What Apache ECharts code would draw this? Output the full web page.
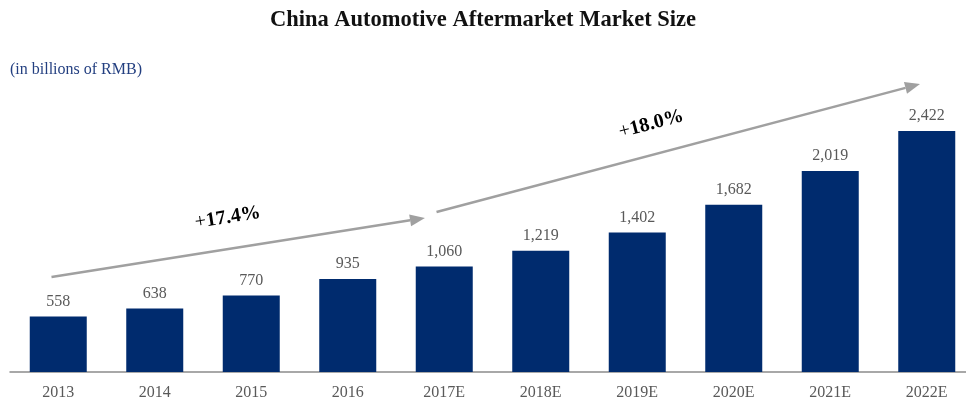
<!DOCTYPE html>
<html><head><meta charset="utf-8">
<script src="https://cdn.jsdelivr.net/npm/echarts@6/dist/echarts.min.js"></script>
<style>html,body{margin:0;padding:0;background:#fff}#c{width:966px;height:403px}</style>
</head><body><div id="c"></div>
<script>
var categories = ['2013','2014','2015','2016','2017E','2018E','2019E','2020E','2021E','2022E'];
var marketSize = [558, 638, 770, 935, 1060, 1219, 1402, 1682, 2019, 2422];
var growthLabels = ['17.4%', '18.0%'];
// arrow endpoints in data space: [category index (fractional), value]
var arrow1 = [[-0.07, 955], [3.8, 1548]];
var arrow2 = [[3.92, 1608], [8.93, 2894]];

var chart = echarts.init(document.getElementById('c'));
var serif = '"Liberation Serif","DejaVu Serif",serif';
chart.setOption({
  animation: false,
  title: [{
    text: 'China Automotive Aftermarket Market Size',
    left: 'center', top: 4,
    textStyle: {fontFamily: serif, fontSize: 22.5, fontWeight: 'bold', color: '#111'}
  }, {
    text: '(in billions of RMB)',
    left: 5, top: 57,
    textStyle: {fontFamily: serif, fontSize: 16, fontWeight: 'normal', color: '#233f80'}
  }],
  grid: {left: 10, width: 965, top: 73.5, height: 298.5, outerBoundsMode: 'none', containLabel: false},
  xAxis: {
    type: 'category', data: categories,
    axisLine: {lineStyle: {color: '#8c8c8c', width: 1.5}},
    axisTick: {show: false},
    axisLabel: {fontFamily: serif, fontSize: 16, color: '#595959', margin: 13}
  },
  yAxis: {type: 'value', min: 0, max: 3000, show: false, splitLine: {show: false}},
  series: [{
    type: 'bar', data: marketSize, barWidth: 57,
    itemStyle: {color: '#002b6e'},
    label: {
      show: true, position: 'top', distance: 7,
      fontFamily: serif, fontSize: 16, color: '#595959',
      formatter: function (p) { return p.value.toLocaleString('en-US'); }
    }
  }]
});

function px(pt) {
  var x0 = chart.convertToPixel({xAxisIndex: 0}, 0);
  var x1 = chart.convertToPixel({xAxisIndex: 0}, 1);
  var x = x0 + (x1 - x0) * pt[0];
  var y = chart.convertToPixel({yAxisIndex: 0}, pt[1]);
  return [x, y];
}
function arrowGraphic(a) {
  var p0 = px(a[0]), p1 = px(a[1]);
  var ang = Math.atan2(p1[1] - p0[1], p1[0] - p0[0]);
  var L = 15, W = 6;
  var bx = p1[0] - L * Math.cos(ang), by = p1[1] - L * Math.sin(ang);
  var nx = -Math.sin(ang) * W, ny = Math.cos(ang) * W;
  return [{
    type: 'line', shape: {x1: p0[0], y1: p0[1], x2: bx, y2: by},
    style: {stroke: '#a0a0a0', lineWidth: 2.5}
  }, {
    type: 'polygon', shape: {points: [[p1[0], p1[1]], [bx + nx, by + ny], [bx - nx, by - ny]]},
    style: {fill: '#a0a0a0'}
  }];
}
function labelGraphic(a, txt, shiftAlong, shiftUp) {
  var p0 = px(a[0]), p1 = px(a[1]);
  var ang = Math.atan2(p1[1] - p0[1], p1[0] - p0[0]);
  var mx = p0[0] + (p1[0] - p0[0]) * shiftAlong, my = p0[1] + (p1[1] - p0[1]) * shiftAlong;
  return {
    type: 'text', x: mx + Math.sin(ang) * shiftUp, y: my - Math.cos(ang) * shiftUp,
    rotation: -ang,
    style: {
      text: '{p|+}{n|' + txt + '}',
      rich: {
        p: {fontFamily: serif, fontSize: 20, color: '#888'},
        n: {fontFamily: serif, fontSize: 20, fontWeight: 'bold', color: '#222'}
      },
      align: 'center', verticalAlign: 'middle'
    }
  };
}
var g = [].concat(arrowGraphic(arrow1), arrowGraphic(arrow2),
  [labelGraphic(arrow1, growthLabels[0], 0.485, 31), labelGraphic(arrow2, growthLabels[1], 0.46, 30)]);
chart.setOption({graphic: g});
</script></body></html>
